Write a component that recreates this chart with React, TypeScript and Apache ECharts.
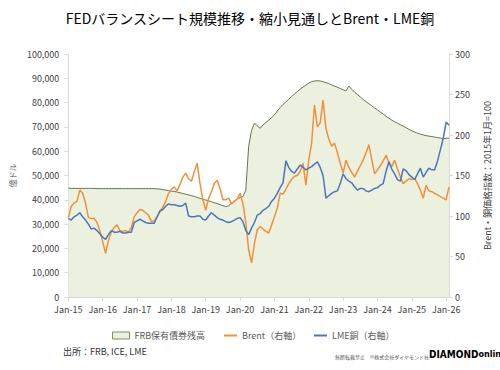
import React, { useEffect, useRef } from "react";
import * as echarts from "echarts";

const yearTicks = ["Jan-15","Jan-16","Jan-17","Jan-18","Jan-19","Jan-20","Jan-21","Jan-22","Jan-23","Jan-24","Jan-25","Jan-26"];
const monthAbbr = ["Jan","Feb","Mar","Apr","May","Jun","Jul","Aug","Sep","Oct","Nov","Dec"];

// FRB holdings (億ドル), monthly Jan-15 .. Feb-26
const frb = [
  44800,44700,44700,44700,44700,44700,44700,44700,44700,44700,44600,44600,
  44600,44600,44600,44600,44600,44600,44600,44600,44600,44600,44600,44600,
  44600,44600,44600,44600,44600,44600,44600,44500,44400,44200,44000,43800,
  43600,43400,43200,42900,42600,42300,42000,41700,41400,41000,40600,40200,
  39900,39600,39200,38800,38400,38000,37600,37200,37500,38600,39400,40400,
  41000,41300,44000,62000,68500,71500,70500,69400,70800,71800,72800,73800,
  75000,76500,78000,79200,80300,81400,82500,83500,84500,85500,86400,87200,
  88000,88600,88900,89000,88900,88600,88200,87800,87300,86800,86300,85800,
  85300,84800,86800,85500,84300,83300,82300,81300,80400,79500,78700,77800,
  77000,76100,75300,74400,73600,72800,72100,71500,70900,70300,69700,69000,
  68400,67900,67400,67000,66700,66400,66200,66000,65800,65600,65400,65200,
  65300,65400
];

// Brent index (2015-01 = 100)
const brent = [
  98,112,116,118,132,128,116,98,97,97,92,82,
  68,54,70,80,86,89,82,81,82,80,86,99,
  104,108,107,104,101,93,94,99,106,111,118,128,
  133,136,131,139,148,153,146,143,155,165,140,120,
  107,122,130,140,144,134,120,120,122,115,118,121,
  128,115,92,58,42,66,83,87,84,81,79,89,
  99,110,128,127,133,140,145,149,150,155,165,138,
  169,190,237,210,215,243,208,195,186,190,178,165,
  153,169,160,154,148,155,162,169,178,188,170,152,
  157,162,168,175,166,161,169,158,148,140,143,146,
  145,146,140,132,122,138,131,130,128,126,124,122,
  120,136
];

// LME copper index (2015-01 = 100)
const copper = [
  97,95,99,101,104,99,95,90,84,85,82,78,
  74,71,77,82,80,80,81,79,79,80,80,92,
  94,96,94,92,91,91,91,99,106,108,112,115,
  114,114,113,112,113,116,100,99,99,100,100,96,
  95,100,104,101,98,96,95,93,92,93,95,97,
  98,93,82,77,85,92,101,103,107,109,112,118,
  122,128,135,141,168,160,155,153,158,163,160,157,
  159,161,164,167,160,150,122,125,128,130,131,140,
  152,146,143,141,136,132,134,134,131,130,132,134,
  135,138,140,155,167,158,152,145,143,158,156,151,
  148,145,152,159,148,154,159,157,157,168,182,196,
  216,212
];

const leftTicks = { min: 0, max: 100000, interval: 10000 };
const rightTicks = { min: 0, max: 300, interval: 50 };

const categories: string[] = [];
for (let y = 15; y <= 26; y++) {
  for (let m = 0; m < 12; m++) {
    if (y === 26 && m > 1) break;
    categories.push(`${monthAbbr[m]}-${y}`);
  }
}

const FONT = "'Noto Sans CJK JP', 'Noto Sans', sans-serif";

export default function App() {
  const ref = useRef<HTMLDivElement>(null);
  useEffect(() => {
    if (!ref.current) return;
    const chart = echarts.init(ref.current, undefined, { renderer: "svg" });
    const axisLabelStyle = { color: "#404040", fontSize: 9, fontFamily: FONT };
    const legendText = { fontSize: 9, color: "#595959", fontFamily: FONT };
    chart.setOption({
      animation: false,
      backgroundColor: "#ffffff",
      textStyle: { fontFamily: FONT },
      title: {
        text: "FEDバランスシート規模推移・縮小見通しとBrent・LME銅",
        left: "center",
        top: 6,
        textStyle: { fontSize: 14, fontWeight: "normal", color: "#000000", fontFamily: FONT },
      },
      grid: { left: 60, right: 48, top: 54, bottom: 73, containLabel: false },
      legend: [
        {
          left: 107, top: 326, itemWidth: 17, itemHeight: 7, itemGap: 4,
          textStyle: legendText,
          data: [{ name: "FRB保有債券残高", icon: "rect", itemStyle: { color: "#EBF1DE", borderColor: "#7f8f5f", borderWidth: 1 } }],
        },
        {
          left: 219, top: 326, itemWidth: 13, itemHeight: 2,
          textStyle: legendText,
          data: [{ name: "Brent（右軸）", icon: "rect" }],
        },
        {
          left: 309, top: 326, itemWidth: 13, itemHeight: 2,
          textStyle: legendText,
          data: [{ name: "LME銅（右軸）", icon: "rect" }],
        },
      ],
      xAxis: {
        type: "category",
        data: categories,
        boundaryGap: false,
        axisLine: { show: true, lineStyle: { color: "#d9d9d9" } },
        axisTick: { show: true, interval: 11, length: 4, lineStyle: { color: "#d9d9d9" } },
        axisLabel: {
          ...axisLabelStyle,
          interval: 11,
          margin: 8,
          formatter: (v: string) => (yearTicks.includes(v) ? v : ""),
        },
        splitLine: { show: false },
      },
      yAxis: [
        {
          type: "value",
          ...leftTicks,
          name: "億ドル",
          nameLocation: "middle",
          nameRotate: 90,
          nameGap: 46,
          nameTextStyle: { fontSize: 8, color: "#595959", fontFamily: FONT },
          axisLine: { show: true, lineStyle: { color: "#d9d9d9" } },
          axisTick: { show: true, length: 4, lineStyle: { color: "#d9d9d9" } },
          axisLabel: {
            ...axisLabelStyle,
            margin: 9,
            formatter: (v: number) => v.toLocaleString("en-US"),
          },
          splitLine: { show: false },
        },
        {
          type: "value",
          ...rightTicks,
          position: "right",
          name: "Brent・銅価格指数：2015年1月=100",
          nameLocation: "middle",
          nameRotate: 90,
          nameGap: 34,
          nameTextStyle: { fontSize: 9, color: "#404040", fontFamily: FONT },
          axisLine: { show: true, lineStyle: { color: "#d9d9d9" } },
          axisTick: { show: true, length: 4, lineStyle: { color: "#d9d9d9" } },
          axisLabel: { ...axisLabelStyle, margin: 6 },
          splitLine: { show: false },
        },
      ],
      series: [
        {
          name: "FRB保有債券残高",
          type: "line",
          yAxisIndex: 0,
          data: frb,
          symbol: "none",
          lineStyle: { color: "#667548", width: 1 },
          itemStyle: { color: "#EBF1DE" },
          areaStyle: { color: "#EBF1DE", opacity: 1 },
          z: 1,
        },
        {
          name: "Brent（右軸）",
          type: "line",
          yAxisIndex: 1,
          data: brent,
          symbol: "none",
          lineStyle: { color: "#F0913A", width: 1.5 },
          itemStyle: { color: "#F0913A" },
          z: 2,
        },
        {
          name: "LME銅（右軸）",
          type: "line",
          yAxisIndex: 1,
          data: copper,
          symbol: "none",
          lineStyle: { color: "#4A76BD", width: 1.5 },
          itemStyle: { color: "#4A76BD" },
          z: 3,
        },
      ],
      graphic: [
        {
          type: "text",
          left: 63,
          top: 347,
          style: { text: "出所：FRB, ICE, LME", fontSize: 9, fill: "#333333", fontFamily: FONT },
        },
        {
          type: "text",
          left: 335,
          top: 354,
          style: { text: "無断転載禁止　©株式会社ダイヤモンド社", fontSize: 5, fill: "#555555", fontFamily: FONT },
        },
        {
          type: "text",
          left: 429,
          top: 349,
          style: {
            text: "{a|DIAMOND}{b|onlin}",
            rich: {
              a: { fontSize: 10, fontWeight: "bold", color: "#8c7a2e", fontFamily: "'DejaVu Sans Condensed', 'Liberation Sans Narrow', sans-serif" },
              b: { fontSize: 9, fontWeight: "bold", color: "#333333", fontFamily: "'DejaVu Sans Condensed', sans-serif" },
            },
          },
        },
      ],
    });
    return () => chart.dispose();
  }, []);
  return <div ref={ref} style={{ position: "absolute", left: 0, top: 0, width: 500, height: 370 }} />;
}
